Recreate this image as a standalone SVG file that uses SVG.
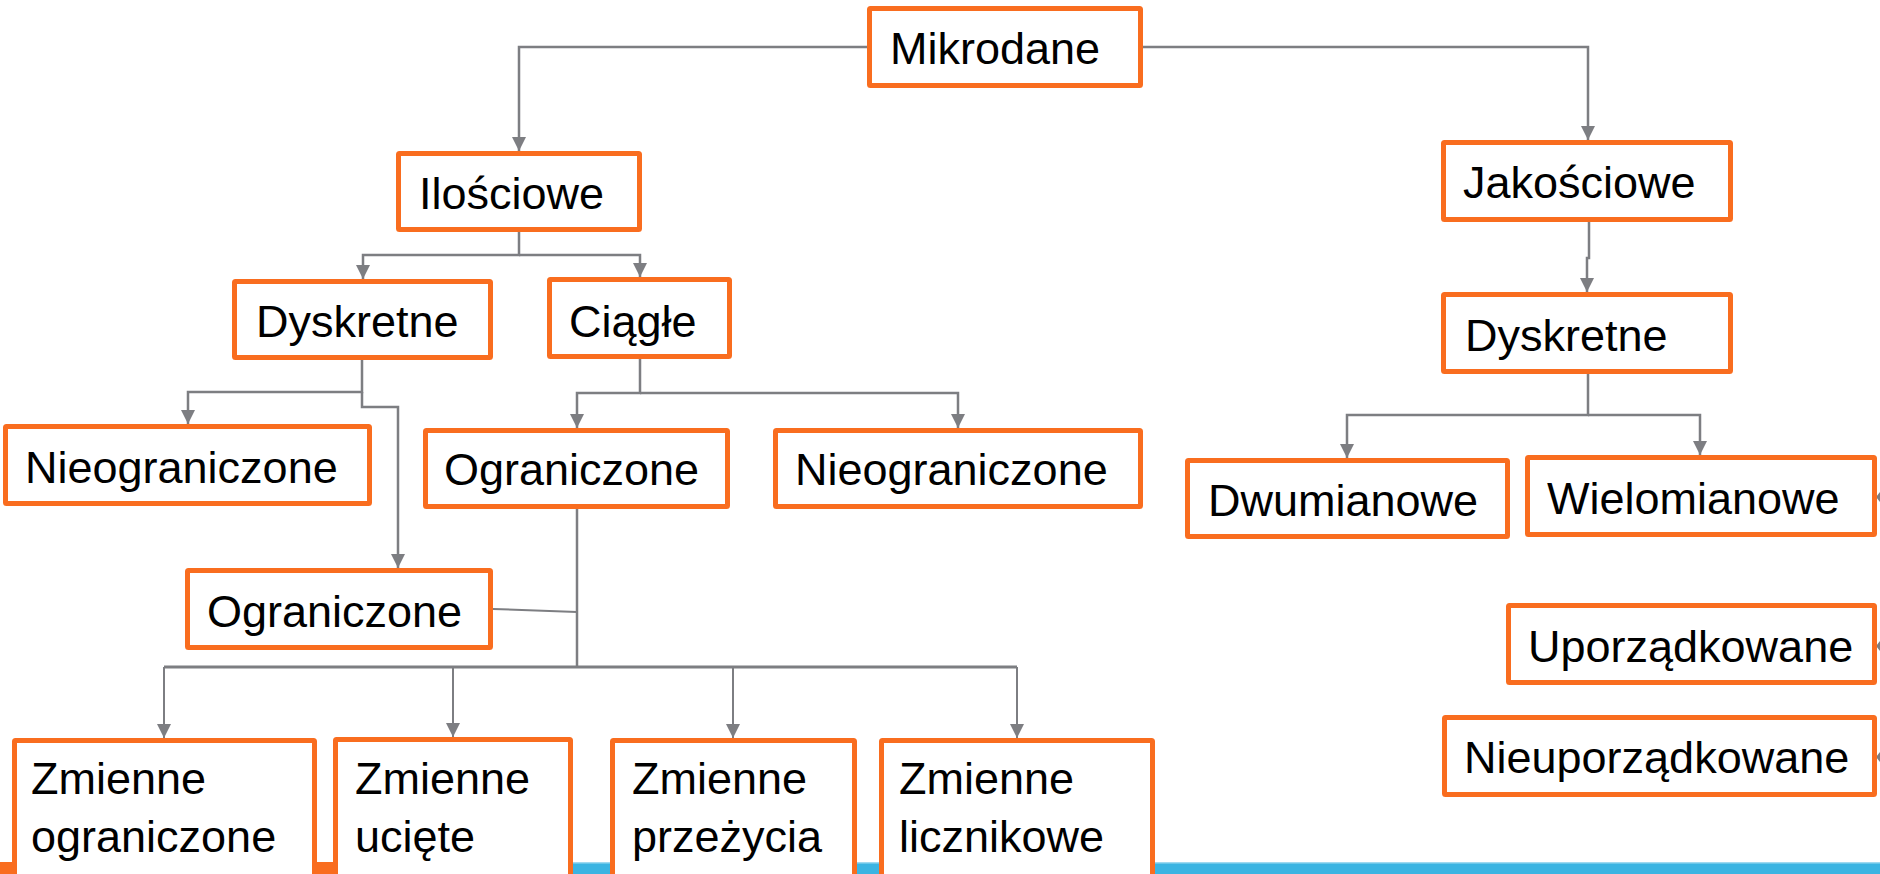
<svg xmlns="http://www.w3.org/2000/svg" width="1880" height="874" viewBox="0 0 1880 874">
  <defs>
    <style>
      .box { fill: #ffffff; stroke: #f96d1f; stroke-width: 5; }
      .lbl { font-family: "Liberation Sans", Arial, sans-serif; font-size: 45px; fill: #000000; }
      .con { fill: none; stroke: #7d7e82; stroke-width: 2.5; }
      .thin { stroke-width: 2; }
    </style>
    <marker id="arrow" markerUnits="userSpaceOnUse" markerWidth="14" markerHeight="14" viewBox="0 0 14 14" refX="14" refY="7" orient="auto">
      <path d="M0,0 L14,7 L0,14 Z" fill="#7d7e82"/>
    </marker>
  </defs>

  <rect width="1880" height="874" fill="#ffffff"/>

  <!-- bottom theme bar -->
  <g id="bottom-bar">
    <rect x="0" y="862" width="460" height="12" fill="#f96d1f"/>
    <rect x="460" y="862" width="1420" height="12" fill="#3bb4e2"/>
    <rect x="460" y="862" width="1420" height="1.5" fill="#9fd9f0"/>
  </g>

  <!-- connectors -->
  <g id="connectors">
    <path class="con" d="M867 47 H519 V151" marker-end="url(#arrow)"/>
    <path class="con" d="M1143 47 H1588 V140" marker-end="url(#arrow)"/>
    <path class="con" d="M519 232 V255 H363 V279" marker-end="url(#arrow)"/>
    <path class="con" d="M519 255 H640 V277" marker-end="url(#arrow)"/>
    <path class="con" d="M1589 222 V258 H1587 V292" marker-end="url(#arrow)"/>
    <path class="con" d="M362 360 V392 H188 V424" marker-end="url(#arrow)"/>
    <path class="con" d="M362 392 V407 H398 V568" marker-end="url(#arrow)"/>
    <path class="con" d="M640 359 V393 H577 V428" marker-end="url(#arrow)"/>
    <path class="con" d="M640 393 H958 V428" marker-end="url(#arrow)"/>
    <path class="con" d="M1588 374 V415 H1347 V458" marker-end="url(#arrow)"/>
    <path class="con" d="M1588 415 H1700 V455" marker-end="url(#arrow)"/>
    <path class="con" d="M577 509 V667"/>
    <path class="con thin" d="M493 609 L577 612"/>
    <path class="con" style="stroke-width:3" d="M164 667 H1017"/>
    <path class="con thin" d="M164 667 V738" marker-end="url(#arrow)"/>
    <path class="con thin" d="M453 667 V737" marker-end="url(#arrow)"/>
    <path class="con thin" d="M733 667 V738" marker-end="url(#arrow)"/>
    <path class="con thin" d="M1017 667 V738" marker-end="url(#arrow)"/>
    <!-- short stubs entering from the right edge -->
    <path d="M1880 492 L1876 497 L1880 502 Z" fill="#7d7e82"/>
    <path d="M1880 641 L1876 646 L1880 651 Z" fill="#7d7e82"/>
    <path d="M1880 752 L1876 757 L1880 762 Z" fill="#7d7e82"/>
  </g>

  <!-- nodes -->
  <g id="mikrodane">
    <rect class="box" x="869.5" y="8.5" width="271" height="77" rx="1"/>
    <text class="lbl" x="890" y="64">Mikrodane</text>
  </g>
  <g id="ilosciowe">
    <rect class="box" x="398.5" y="153.5" width="241" height="76" rx="1"/>
    <text class="lbl" x="419" y="209">Ilościowe</text>
  </g>
  <g id="jakosciowe">
    <rect class="box" x="1443.5" y="142.5" width="287" height="77" rx="1"/>
    <text class="lbl" x="1463" y="198">Jakościowe</text>
  </g>
  <g id="dyskretne-ilosciowe">
    <rect class="box" x="234.5" y="281.5" width="256" height="76" rx="1"/>
    <text class="lbl" x="256" y="337">Dyskretne</text>
  </g>
  <g id="ciagle">
    <rect class="box" x="549.5" y="279.5" width="180" height="77" rx="1"/>
    <text class="lbl" x="569" y="337">Ciągłe</text>
  </g>
  <g id="dyskretne-jakosciowe">
    <rect class="box" x="1443.5" y="294.5" width="287" height="77" rx="1"/>
    <text class="lbl" x="1465" y="351">Dyskretne</text>
  </g>
  <g id="nieograniczone-dyskretne">
    <rect class="box" x="5.5" y="426.5" width="364" height="77" rx="1"/>
    <text class="lbl" x="25" y="483">Nieograniczone</text>
  </g>
  <g id="ograniczone-ciagle">
    <rect class="box" x="425.5" y="430.5" width="302" height="76" rx="1"/>
    <text class="lbl" x="444" y="485">Ograniczone</text>
  </g>
  <g id="nieograniczone-ciagle">
    <rect class="box" x="775.5" y="430.5" width="365" height="76" rx="1"/>
    <text class="lbl" x="795" y="485">Nieograniczone</text>
  </g>
  <g id="dwumianowe">
    <rect class="box" x="1187.5" y="460.5" width="320" height="76" rx="1"/>
    <text class="lbl" x="1208" y="516">Dwumianowe</text>
  </g>
  <g id="wielomianowe">
    <rect class="box" x="1527.5" y="457.5" width="347" height="77" rx="1"/>
    <text class="lbl" x="1547" y="514">Wielomianowe</text>
  </g>
  <g id="ograniczone-dyskretne">
    <rect class="box" x="187.5" y="570.5" width="303" height="77" rx="1"/>
    <text class="lbl" x="207" y="627">Ograniczone</text>
  </g>
  <g id="uporzadkowane">
    <rect class="box" x="1508.5" y="605.5" width="366" height="77" rx="1"/>
    <text class="lbl" x="1528" y="662">Uporządkowane</text>
  </g>
  <g id="nieuporzadkowane">
    <rect class="box" x="1444.5" y="717.5" width="430" height="77" rx="1"/>
    <text class="lbl" x="1464" y="773">Nieuporządkowane</text>
  </g>
  <g id="zmienne-ograniczone">
    <rect class="box" x="14.5" y="740.5" width="300" height="160" rx="1"/>
    <text class="lbl" x="31" y="794">Zmienne</text>
    <text class="lbl" x="31" y="852">ograniczone</text>
  </g>
  <g id="zmienne-uciete">
    <rect class="box" x="335.5" y="739.5" width="235" height="160" rx="1"/>
    <text class="lbl" x="355" y="794">Zmienne</text>
    <text class="lbl" x="355" y="852">ucięte</text>
  </g>
  <g id="zmienne-przezycia">
    <rect class="box" x="612.5" y="740.5" width="242" height="160" rx="1"/>
    <text class="lbl" x="632" y="794">Zmienne</text>
    <text class="lbl" x="632" y="852">przeżycia</text>
  </g>
  <g id="zmienne-licznikowe">
    <rect class="box" x="881.5" y="740.5" width="271" height="160" rx="1"/>
    <text class="lbl" x="899" y="794">Zmienne</text>
    <text class="lbl" x="899" y="852">licznikowe</text>
  </g>
</svg>
